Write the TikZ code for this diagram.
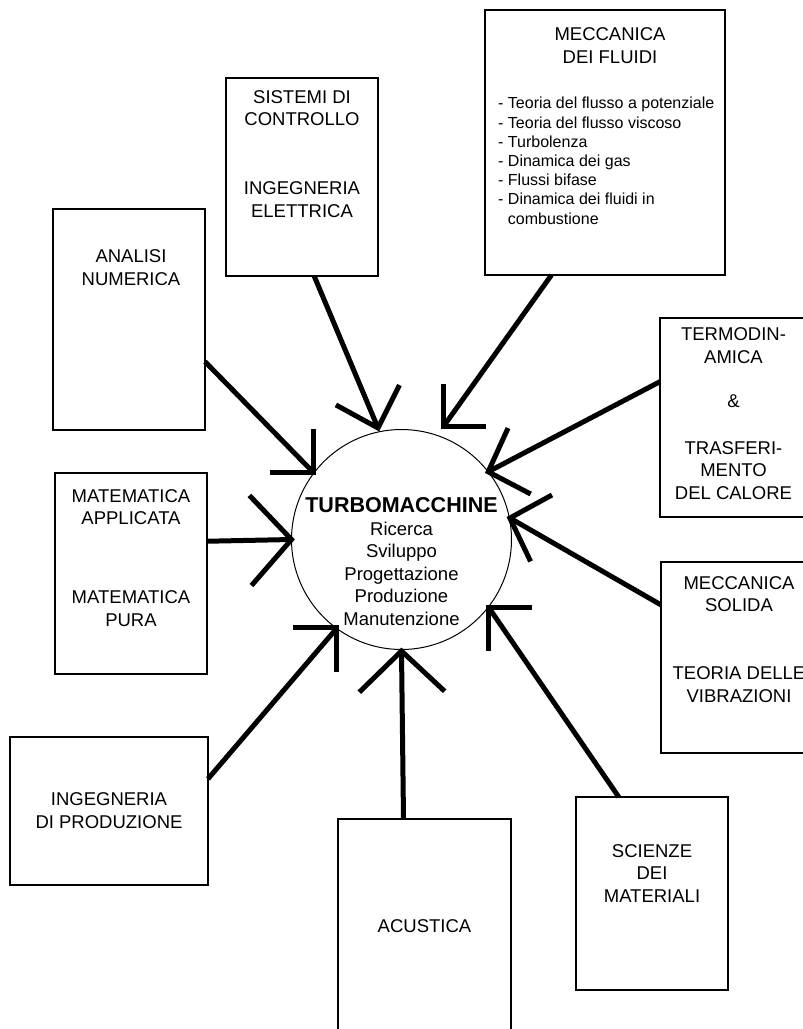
\documentclass[tikz,border=0pt]{standalone}
\usepackage{fontspec}
\setmainfont{Liberation Sans}
\usetikzlibrary{positioning,calc}

\tikzset{
  field/.style={draw, line width=1.5pt, inner sep=0pt, outer sep=0pt},
  % multi-line texts: 'base' is the baseline of the last line
  tag/.style={align=center, inner sep=0pt, anchor=base,
              font=\fontsize{18.5}{22.5}\selectfont},
  topics/.style={align=left, inner sep=0pt, anchor=base west,
                 font=\fontsize{16}{19.2}\selectfont},
  link/.style={line width=5pt},
}
% open V head: tip, angle of each arm, arm length
\newcommand\vhead[4]{\draw[link] (#1) ++(#2:#4) -- (#1) -- ++(#3:#4);}

\begin{document}
\begin{tikzpicture}[x=1pt, y=1pt]
  \useasboundingbox (0,0) rectangle (803,-1029);

  % central hub
  \node[circle, draw, line width=1pt, minimum size=220pt, inner sep=0pt] (turbo) at (401.5,-539.5) {};
  \node[tag] (turbo-t) at (401.5,-625)
        {{\fontsize{21.5}{22.5}\selectfont\bfseries TURBOMACCHINE}\\Ricerca\\Sviluppo\\Progettazione\\Produzione\\Manutenzione};

  % surrounding disciplines
  \node[field, minimum width=152pt, minimum height=198pt] (ctrl) at (302,-177) {};
  \node[tag] (ctrl-t) at ([yshift=-139pt]ctrl.north) {SISTEMI DI\\CONTROLLO\\[46.5pt]INGEGNERIA\\ELETTRICA};

  \node[field, minimum width=152pt, minimum height=221pt] (num) at (129,-319.5) {};
  \node[tag] (num-t) at ([xshift=2pt,yshift=-76pt]num.north) {ANALISI\\NUMERICA};

  \node[field, minimum width=240pt, minimum height=265pt] (fluid) at (605,-142.5) {};
  \node[tag] (fluid-t) at ([xshift=5pt,yshift=-53pt]fluid.north) {MECCANICA\\DEI FLUIDI};
  \node[topics] (fluid-l) at ([xshift=13pt,yshift=-214pt]fluid.north west)
        {- Teoria del flusso a potenziale\\- Teoria del flusso viscoso\\- Turbolenza\\- Dinamica dei gas\\- Flussi bifase\\- Dinamica dei fluidi in\\\hphantom{- }combustione};

  \node[field, minimum width=147pt, minimum height=199pt] (thermo) at (733.5,-417.5) {};
  \node[tag] (thermo-t) at ([yshift=-181pt]thermo.north) {TERMODIN-\\AMICA\\[21.5pt]\&\\[24.5pt]TRASFERI-\\MENTO\\DEL CALORE};

  \node[field, minimum width=152pt, minimum height=201pt] (math) at (131,-573.5) {};
  \node[tag] (math-t) at ([yshift=-153pt]math.north) {MATEMATICA\\APPLICATA\\[56.5pt]MATEMATICA\\PURA};

  \node[field, minimum width=156pt, minimum height=191pt] (solid) at (739,-657.5) {};
  \node[tag] (solid-t) at ([yshift=-140pt]solid.north) {MECCANICA\\SOLIDA\\[45.5pt]TEORIA DELLE\\VIBRAZIONI};

  \node[field, minimum width=198pt, minimum height=148pt] (prod) at (109,-811) {};
  \node[tag] (prod-t) at ([yshift=-91pt]prod.north) {INGEGNERIA\\DI PRODUZIONE};

  \node[field, minimum width=173pt, minimum height=216pt] (acou) at (424.5,-927) {};
  \node[tag] (acou-t) at ([yshift=-113pt]acou.north) {ACUSTICA};

  \node[field, minimum width=152pt, minimum height=193pt] (mat) at (652,-893.5) {};
  \node[tag] (mat-t) at ([yshift=-105pt]mat.north) {SCIENZE\\DEI\\MATERIALI};

  % where the arrows meet the hub
  \coordinate (h-ctrl)   at ($(turbo)+(101.9:114)$);
  \coordinate (h-fluid)  at ($(turbo)+(69.7:120)$);
  \coordinate (h-num)    at ($(turbo)+(142.7:111)$);
  \coordinate (h-math)   at ($(turbo)+(180:110)$);
  \coordinate (h-prod)   at ($(turbo)+(233.9:109.5)$);
  \coordinate (h-acou)   at ($(turbo)+(270:111.5)$);
  \coordinate (h-mat)    at ($(turbo)+(322:111)$);
  \coordinate (h-solid)  at ($(turbo)+(11.2:110.5)$);
  \coordinate (h-thermo) at ($(turbo)+(38:110)$);

  \draw[link] (ctrl.-83.7) -- (h-ctrl);    \vhead{h-ctrl}{151.3}{63.4}{48}
  \draw[link] (fluid.248.2) -- (h-fluid);  \vhead{h-fluid}{90}{0}{43}
  \draw[link] (num.-29.2) -- (h-num);      \vhead{h-num}{90}{180}{43}
  \draw[link] (math.23.8) -- (h-math);     \vhead{h-math}{133.7}{229}{61}
  \draw[link] (prod.18.4) -- (h-prod);     \vhead{h-prod}{180}{270}{44}
  \draw[link] (acou.101.8) -- (h-acou);    \vhead{h-acou}{224.3}{317}{59}
  \draw[link] (mat.109.4) -- (h-mat);      \vhead{h-mat}{0}{270}{43}
  \draw[link] (solid.146.1) -- (h-solid);  \vhead{h-solid}{28.7}{-64.5}{48}
  \draw[link] (thermo.154.9) -- (h-thermo);\vhead{h-thermo}{65.6}{-27.6}{48}
\end{tikzpicture}
\end{document}
